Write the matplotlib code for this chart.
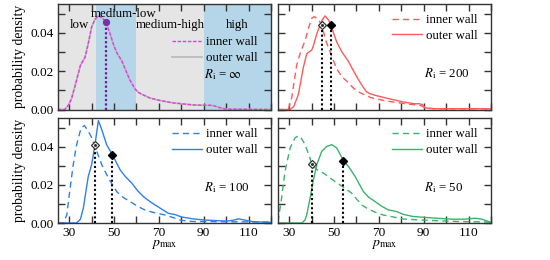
import matplotlib
matplotlib.use("Agg")
import matplotlib.pyplot as plt
from matplotlib.ticker import MultipleLocator, FixedLocator

plt.rcParams['font.family'] = ['Liberation Serif', 'DejaVu Serif']
plt.rcParams['mathtext.fontset'] = 'stix'
plt.rcParams['font.size'] = 9.3

# ---------------- data ----------------
# R_i = infinity (inner and outer wall coincide)
x_inf = [25, 28, 29.5, 31, 33, 35, 37, 38.5, 40, 41.5, 43, 44.5, 46.3, 48.2, 50, 51.5, 53.4, 55, 57,
         59.4, 61, 63, 66, 70, 76, 80, 85, 90, 93, 95, 97, 100, 120]
y_inf = [0, 0, 0.002, 0.0055, 0.014, 0.023, 0.027, 0.0344, 0.043, 0.047, 0.0488, 0.048, 0.0458, 0.0396,
         0.033, 0.029, 0.0255, 0.021, 0.0155, 0.0106, 0.0088, 0.0076, 0.006, 0.0048, 0.0035, 0.003,
         0.0024, 0.0022, 0.0022, 0.0018, 0.001, 0.0002, 0]
mark_inf = (46.3, 0.0458)

# R_i = 200
x200_in = [25, 29.6, 31.1, 33.3, 34.8, 37.1, 38.5, 40.0, 41.2, 43.0, 44.5, 46.3, 48.2, 51.2, 53.5, 56.2,
           58.8, 61.5, 66.6, 73.5, 80, 86.9, 89, 90.6, 95, 120]
y200_in = [0, 0, 0.0061, 0.0229, 0.029, 0.036, 0.042, 0.0476, 0.0484, 0.047, 0.044, 0.036, 0.030, 0.0211,
           0.0172, 0.0141, 0.011, 0.0088, 0.0061, 0.0044, 0.0033, 0.0023, 0.002, 0.0007, 0.0004, 0.0004]
x200_out = [25, 30.4, 32, 34.1, 36.3, 37.8, 39, 40.0, 41, 42.3, 44.5, 46.0, 47.5, 48.7, 50, 51.2, 53.5,
            56.2, 58.5, 60.7, 62.5, 64.4, 66, 69.6, 75, 81, 86, 88, 89.5, 90.6, 95, 120]
y200_out = [0, 0, 0.0015, 0.0079, 0.0219, 0.029, 0.0302, 0.0308, 0.034, 0.0395, 0.0463, 0.0488, 0.0467,
            0.0438, 0.039, 0.0352, 0.030, 0.0255, 0.0205, 0.0159, 0.0125, 0.0093, 0.0082, 0.0070, 0.0055,
            0.0039, 0.003, 0.003, 0.0025, 0.0008, 0.0004, 0.0004]
mark200_in = (44.5, 0.044)
mark200_out = (48.7, 0.0438)

# R_i = 100
x100_in = [25, 27.4, 28.9, 30.4, 31.8, 33.3, 35.3, 36.8, 38.5, 40, 41.2, 42.8, 44.5, 47.5, 51.2, 54,
           57.1, 60, 63.1, 67, 72.8, 76, 79.5, 85, 120]
y100_in = [0, 0, 0.0042, 0.0183, 0.0307, 0.0412, 0.050, 0.0513, 0.0483, 0.045, 0.041, 0.036, 0.0307,
           0.0236, 0.0165, 0.0135, 0.0113, 0.0092, 0.0072, 0.0057, 0.0042, 0.003, 0.0015, 0.0008, 0.0005]
x100_out = [25, 33.3, 35, 36.3, 37.5, 38.5, 40.0, 41.5, 42.3, 43.0, 44.5, 46.7, 49.3, 52.7, 55, 57.9,
            60.5, 63.1, 66, 68.3, 71, 74.2, 77, 80, 85, 90, 95, 100, 103, 105.5, 108, 112, 120]
y100_out = [0, 0, 0.002, 0.0078, 0.017, 0.0245, 0.0307, 0.0412, 0.048, 0.0539, 0.0492, 0.0412, 0.0358,
            0.028, 0.0245, 0.021, 0.017, 0.0139, 0.0113, 0.0095, 0.0075, 0.0051, 0.0045, 0.0032, 0.0022,
            0.0016, 0.0013, 0.001, 0.0014, 0.0022, 0.0016, 0.0007, 0.0003]
mark100_in = (41.3, 0.041)
mark100_out = (49.3, 0.0358)

# R_i = 50
x50_in = [25, 26.6, 28.1, 30.4, 32.6, 34.0, 35, 37.1, 39.3, 40.0, 41.5, 43, 45.2, 48, 50.4, 54, 57.9,
          60, 62.4, 65, 68.3, 72, 81, 88, 95.8, 105, 120]
y50_in = [0.0005, 0.013, 0.027, 0.0395, 0.0448, 0.0458, 0.0455, 0.0412, 0.034, 0.031, 0.029, 0.0275,
          0.0263, 0.024, 0.0218, 0.019, 0.0157, 0.0127, 0.0095, 0.0075, 0.0057, 0.0042, 0.0021, 0.0016,
          0.0012, 0.0008, 0.0005]
x50_out = [25, 35.6, 37, 37.8, 39.3, 40.8, 42.3, 44.5, 46.7, 49.0, 51.2, 53, 54.2, 56.4, 59.4, 61, 63.1,
           65.5, 68.3, 71, 74.2, 78, 81, 85.4, 90, 95.8, 102.8, 108, 113, 116, 119.6, 120]
y50_out = [0, 0, 0.0015, 0.0042, 0.013, 0.0227, 0.0307, 0.0377, 0.0403, 0.0412, 0.0395, 0.0355, 0.0328,
           0.0298, 0.0245, 0.021, 0.0165, 0.0135, 0.0113, 0.009, 0.0069, 0.006, 0.0045, 0.0034, 0.003,
           0.0025, 0.002, 0.002, 0.0025, 0.002, 0.0005, 0.0003]
mark50_in = (40.0, 0.031)
mark50_out = (54.2, 0.0328)

region_edges = [25, 42, 60, 90, 120]
region_names = ["low", "medium-low", "medium-high", "high"]
region_label_x = [34.4, 54.2, 75, 105]
region_label_y = [0.0438, 0.0497, 0.0438, 0.0438]

xticks = [30, 50, 70, 90, 110]
yticks = [0.00, 0.02, 0.04]

# ---------------- figure ----------------
fig = plt.figure(figsize=(5.5, 2.6), dpi=100)
W, H = 550, 260
def ax_at(l, t, r, b):
    return fig.add_axes([l / W, 1 - b / H, (r - l) / W, (b - t) / H])

ax_tl = ax_at(58, 4, 271, 109.5)
ax_tr = ax_at(278, 4, 491, 109.5)
ax_bl = ax_at(58, 118.5, 271, 223)
ax_br = ax_at(278, 118.5, 491, 223)

spine_col = '#333333'
for ax in (ax_tl, ax_tr, ax_bl, ax_br):
    ax.set_xlim(25, 120)
    ax.set_ylim(0, 0.055)
    ax.xaxis.set_major_locator(FixedLocator(xticks))
    ax.xaxis.set_minor_locator(MultipleLocator(10))
    ax.yaxis.set_major_locator(FixedLocator(yticks))
    ax.yaxis.set_minor_locator(MultipleLocator(0.01))
    ax.tick_params(which='both', direction='in', top=True, right=True, color=spine_col, width=1)
    ax.tick_params(which='major', length=5, labelsize=9.6, pad=3)
    ax.tick_params(which='minor', length=5)
    for s in ax.spines.values():
        s.set_color(spine_col)
        s.set_linewidth(1)
    ax.yaxis.set_major_formatter(plt.FuncFormatter(lambda v, p: f"{v:.2f}"))

for ax in (ax_tl, ax_tr):
    ax.tick_params(labelbottom=False)
for ax in (ax_tr, ax_br):
    ax.tick_params(labelleft=False)
for ax in (ax_tl, ax_bl):
    ax.set_ylabel("probability density", labelpad=3, fontsize=9.8)
for ax in (ax_bl, ax_br):
    ax.set_xlabel(r"$p_\mathrm{max}$", labelpad=-1, fontsize=10)

# --- top-left: regions ---
reg_cols = ['#e5e5e5', '#b5d5e8', '#e5e5e5', '#b5d5e8']
for i in range(4):
    ax_tl.axvspan(region_edges[i], region_edges[i + 1], color=reg_cols[i], lw=0, zorder=0)
    ax_tl.text(region_label_x[i], region_label_y[i], region_names[i], ha='center', va='center',
               fontsize=9.3, zorder=3)
l_out, = ax_tl.plot(x_inf, y_inf, color='#bbbbbb', lw=1.3, zorder=2, label='outer wall')
l_in, = ax_tl.plot(x_inf, y_inf, color='#e040e0', lw=1.0, ls=(0, (2.5, 1.2)), zorder=2.5, label='inner wall')
ax_tl.plot([mark_inf[0], mark_inf[0]], [0, mark_inf[1]], color='#6a1b9a', lw=1.6, ls=(0, (1, 1)), zorder=3)
ax_tl.plot([mark_inf[0]], [mark_inf[1]], marker='o', ms=4.2, color='#7b2fa8', zorder=4)
ax_tl.legend(handles=[l_in, l_out], loc='upper left', bbox_to_anchor=(0.535, 0.695), frameon=False,
             handlelength=2.3, handletextpad=0.3, labelspacing=0.3, borderpad=0, borderaxespad=0)
ax_tl.text(90, 0.0181, r"$R_\mathrm{i}$ = $\infty$", ha='left', va='center', zorder=3)

def panel(ax, col, xi, yi, xo, yo, mi, mo, lab):
    li, = ax.plot(xi, yi, color=col, lw=1.0, ls=(0, (4.5, 3)), label='inner wall')
    lo, = ax.plot(xo, yo, color=col, lw=1.0, label='outer wall')
    for m in (mi, mo):
        ax.plot([m[0], m[0]], [0, m[1]], color='black', lw=1.5, ls=(0, (1, 1.2)), zorder=3)
    ax.plot([mi[0]], [mi[1]], marker='D', ms=3.8, mfc='white', mec='#333333', mew=0.9, zorder=4)
    ax.plot([mi[0]], [mi[1]], marker='o', ms=1.2, color='#333333', zorder=5)
    ax.plot([mo[0]], [mo[1]], marker='D', ms=4.0, color='black', zorder=4)
    ax.legend(handles=[li, lo], loc='upper left', bbox_to_anchor=(0.535, 0.905), frameon=False,
              handlelength=2.3, handletextpad=0.3, labelspacing=0.3, borderpad=0, borderaxespad=0)
    ax.text(90, 0.0185, lab, ha='left', va='center')

panel(ax_tr, '#ff5a5a', x200_in, y200_in, x200_out, y200_out, mark200_in, mark200_out, r"$R_\mathrm{i}$ = 200")
panel(ax_bl, '#2f80ea', x100_in, y100_in, x100_out, y100_out, mark100_in, mark100_out, r"$R_\mathrm{i}$ = 100")
panel(ax_br, '#3cb36a', x50_in, y50_in, x50_out, y50_out, mark50_in, mark50_out, r"$R_\mathrm{i}$ = 50")

fig.savefig("out.png", dpi=100)
